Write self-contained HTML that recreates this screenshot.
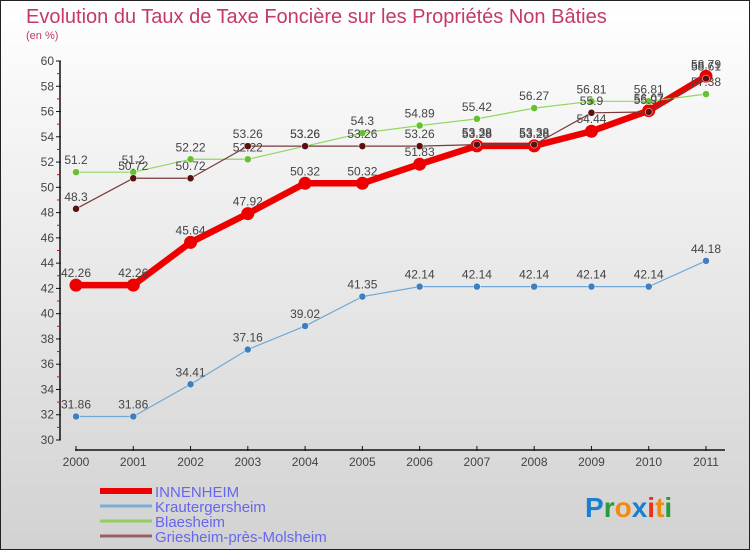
<!DOCTYPE html>
<html><head><meta charset="utf-8"><style>
body{margin:0;width:750px;height:550px;overflow:hidden}
svg{display:block;font-family:"Liberation Sans",sans-serif}
</style></head><body>
<svg width="750" height="550">
<defs><linearGradient id="bg" x1="0" y1="0" x2="0" y2="1"><stop offset="0" stop-color="#ffffff"/><stop offset="1" stop-color="#d2d2d2"/></linearGradient></defs>
<rect x="0.5" y="0.5" width="749" height="549" fill="url(#bg)" stroke="#222"/>
<text x="26" y="23" font-size="20" fill="#c4386e">Evolution du Taux de Taxe Foncière sur les Propriétés Non Bâties</text>
<text x="26" y="39" font-size="11" fill="#c4386e">(en %)</text>
<g id="axes"></g><g id="series"></g><g id="legend"></g>
<text x="585" y="517" font-size="28" font-weight="bold"><tspan fill="#1a7fd0">P</tspan><tspan fill="#2a9a3a">r</tspan><tspan fill="#f08a10">o</tspan><tspan fill="#1a7fd0">x</tspan><tspan fill="#e8301a">i</tspan><tspan fill="#f08a10">t</tspan><tspan fill="#2a9a3a">i</tspan></text>
</svg>
<script>
const years=[2000,2001,2002,2003,2004,2005,2006,2007,2008,2009,2010,2011];
const yTicks=[30,32,34,36,38,40,42,44,46,48,50,52,54,56,58,60];
const innenheim=[42.26,42.26,45.64,47.92,50.32,50.32,51.83,53.28,53.28,54.44,56.07,58.79];
const krauter=[31.86,31.86,34.41,37.16,39.02,41.35,42.14,42.14,42.14,42.14,42.14,44.18];
const blaesheim=[51.2,51.2,52.22,52.22,53.26,54.3,54.89,55.42,56.27,56.81,56.81,57.38];
const griesheim=[48.3,50.72,50.72,53.26,53.26,53.26,53.26,53.38,53.38,55.9,55.97,58.61];
const names=["INNENHEIM","Krautergersheim","Blaesheim","Griesheim-près-Molsheim"];
const NS="http://www.w3.org/2000/svg";
const xs=i=>76+i*(630/11);
const ys=v=>440-(v-30)*(379/30);
function mk(p,t,a){const e=document.createElementNS(NS,t);for(const k in a)e.setAttribute(k,a[k]);p.appendChild(e);return e;}
const ax=document.getElementById('axes');
let e=mk(ax,'line',{x1:60,y1:ys(60),x2:60,y2:440,stroke:'#111','stroke-width':1.5});

yTicks.forEach(v=>{
 mk(ax,'line',{x1:56,x2:61,y1:ys(v),y2:ys(v),stroke:'#111'});
 if(v<60)mk(ax,'line',{x1:57,x2:60,y1:ys(v+1),y2:ys(v+1),stroke:'#e00'});
 const t=mk(ax,'text',{x:54,y:ys(v)+4,'font-size':12,'text-anchor':'end',fill:'#444'});t.textContent=v;
 
});
e=mk(ax,'line',{x1:75,y1:450,x2:725,y2:450,stroke:'#111','stroke-width':1.5});

years.forEach((y,i)=>{
 mk(ax,'line',{x1:xs(i),x2:xs(i),y1:446,y2:451,stroke:'#111'});
 const t=mk(ax,'text',{x:xs(i),y:466,'font-size':12,'text-anchor':'middle',fill:'#444'});t.textContent=y;
 
});
const sg=document.getElementById('series');
const defs=[[innenheim,'#ee0000','#ee0000',6.5,6.5,'innenheim',true],[krauter,'#6fa8d6','#3d7fbf',1.2,3.5,'krautergersheim',false],[blaesheim,'#8fd860','#66c030',1.2,3.5,'blaesheim',false],[griesheim,'#7a3a3a','#5a1010',1.2,3.5,'griesheim',false]];
defs.forEach(d=>{
 const [vals,lc,mc,w,r,nm,big]=d;
 const g=mk(sg,'g',{});
 
 const pl=mk(g,'polyline',{points:vals.map((v,i)=>xs(i)+','+ys(v)).join(' '),fill:'none',stroke:lc,'stroke-width':w,'stroke-linejoin':'round'});
 
 vals.forEach((v,i)=>{
  const c=mk(g,'circle',{cx:xs(i),cy:ys(v),r:r,fill:mc,stroke:big?'none':'#fff','stroke-width':0.5});
  
  const t=mk(g,'text',{x:xs(i),y:ys(v)-8,'font-size':12,'text-anchor':'middle',fill:'#444'});t.textContent=v;
  
 });
});
const lg=document.getElementById('legend');
const lcols=['#ee0000','#7aaed6','#90d060','#9a6060'],lw=[6,3,3,3];
names.forEach((n,i)=>{
 const y=491+i*15;
 const g=mk(lg,'g',{});
 
 mk(g,'line',{x1:100,x2:152,y1:y,y2:y,stroke:lcols[i],'stroke-width':lw[i]});
 const t=mk(g,'text',{x:155,y:y+6,'font-size':15,fill:'#6666ee'});t.textContent=n;
});
</script>
</body></html>
